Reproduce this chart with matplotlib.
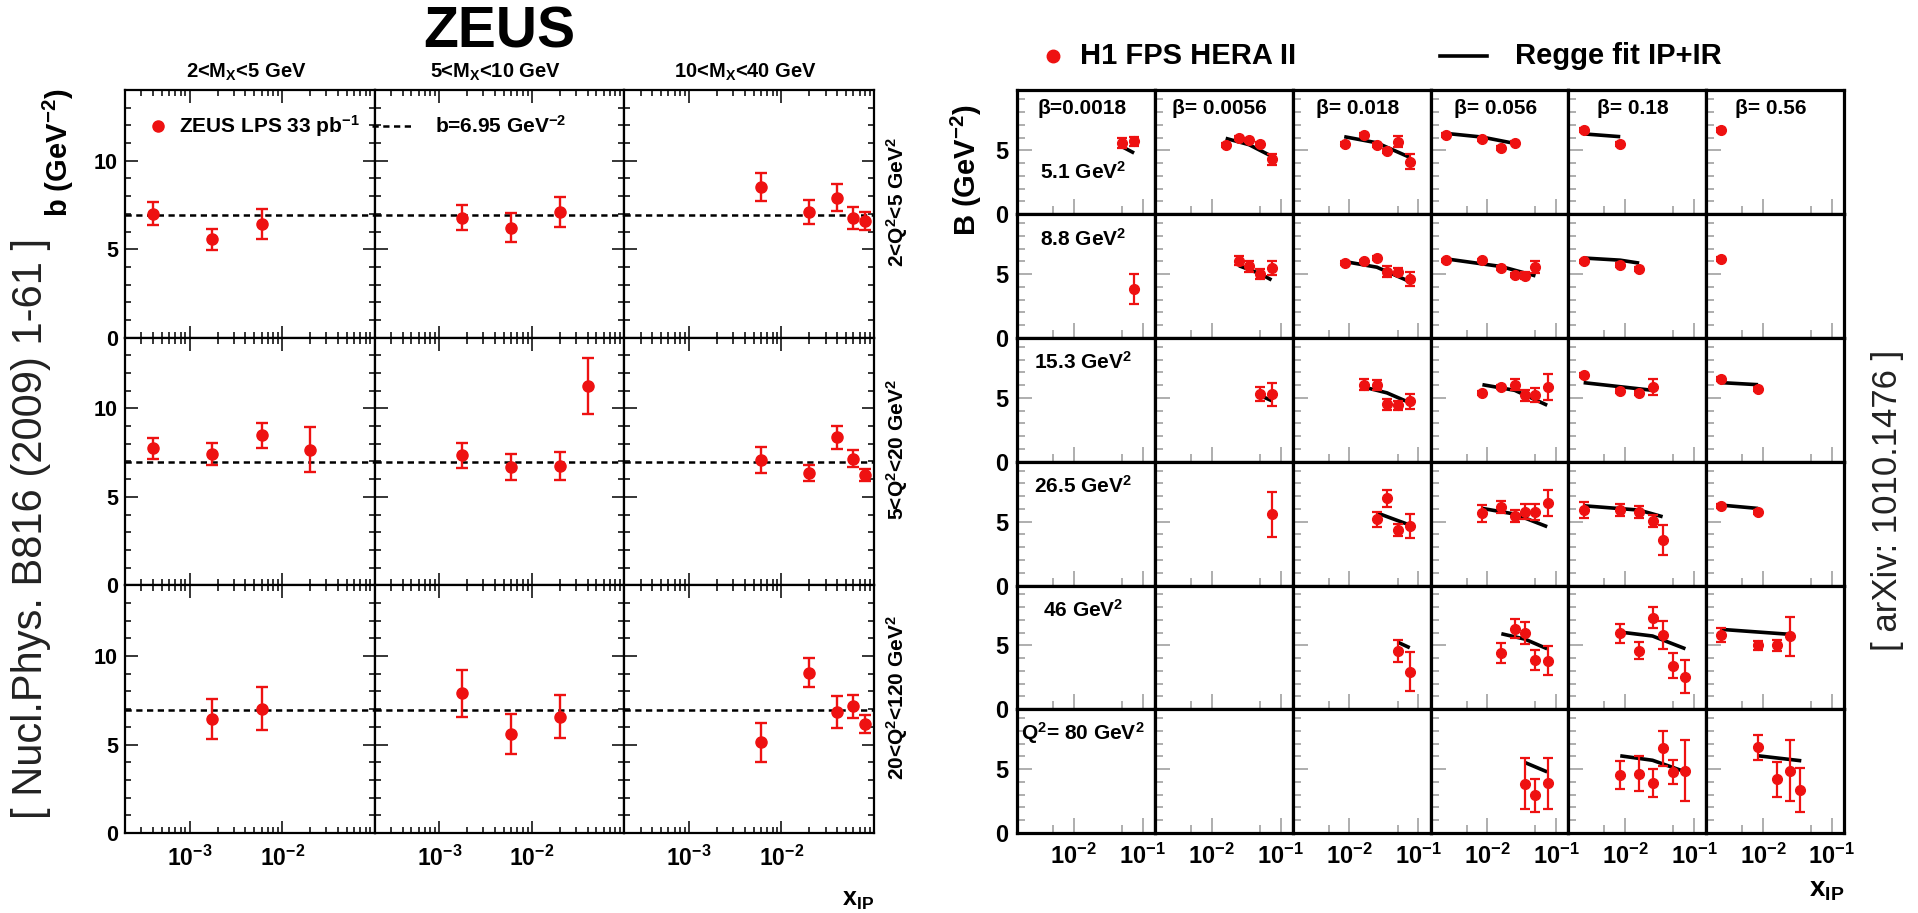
import matplotlib
matplotlib.use('Agg')
import matplotlib.pyplot as plt
from matplotlib.lines import Line2D
from matplotlib.ticker import FixedLocator, MultipleLocator, NullFormatter, LogLocator

plt.rcParams['font.family'] = ['Liberation Sans', 'DejaVu Sans']
plt.rcParams['font.weight'] = 'bold'
plt.rcParams['mathtext.fontset'] = 'custom'
plt.rcParams['mathtext.rm'] = 'Liberation Sans:bold'
plt.rcParams['mathtext.bf'] = 'Liberation Sans:bold'
plt.rcParams['mathtext.it'] = 'Liberation Sans:bold'
plt.rcParams['mathtext.default'] = 'rm'

RED = '#ee1111'

# ---------------- ZEUS LPS (left) ----------------
zeus_x = [0.0004, 0.00175, 0.006, 0.02, 0.04, 0.06, 0.08]
mx_bins = ['2<M$_{X}$<5 GeV', '5<M$_{X}$<10 GeV', '10<M$_{X}$<40 GeV']
zeus_q2_bins = ['2<Q$^{2}$<5 GeV$^{2}$', '5<Q$^{2}$<20 GeV$^{2}$', '20<Q$^{2}$<120 GeV$^{2}$']
zeus_b_avg = 6.95

# one entry per M_X column: (index into zeus_x, b, error)
zeus_q2_low = [
    ([0, 1, 2], [7.0, 5.55, 6.42], [0.65, 0.6, 0.85]),
    ([1, 2, 3], [6.78, 6.21, 7.1], [0.72, 0.82, 0.87]),
    ([2, 3, 4, 5, 6], [8.52, 7.1, 7.92, 6.76, 6.59], [0.78, 0.7, 0.78, 0.62, 0.5]),
]
zeus_q2_mid = [
    ([0, 1, 2, 3], [7.75, 7.42, 8.47, 7.66], [0.6, 0.62, 0.72, 1.28]),
    ([1, 2, 3, 4], [7.36, 6.68, 6.75, 11.28], [0.7, 0.72, 0.77, 1.57]),
    ([2, 3, 4, 5, 6], [7.09, 6.34, 8.36, 7.15, 6.23], [0.72, 0.47, 0.63, 0.48, 0.34]),
]
zeus_q2_high = [
    ([1, 2], [6.43, 7.03], [1.14, 1.23]),
    ([1, 2, 3], [7.9, 5.58, 6.58], [1.33, 1.13, 1.22]),
    ([2, 3, 4, 5, 6], [5.12, 9.07, 6.84, 7.16, 6.14], [1.08, 0.84, 0.92, 0.66, 0.51]),
]

# ---------------- H1 FPS (right) ----------------
h1_x = [0.0025, 0.0085, 0.016, 0.025, 0.035, 0.05, 0.075]
betas = ['β=0.0018', 'β= 0.0056', 'β= 0.018', 'β= 0.056', 'β= 0.18', 'β= 0.56']
h1_q2_labels = ['5.1 GeV$^{2}$', '8.8 GeV$^{2}$', '15.3 GeV$^{2}$', '26.5 GeV$^{2}$',
                '46 GeV$^{2}$', 'Q$^{2}$= 80 GeV$^{2}$']

# per Q2 row: {beta column: (index into h1_x, B, error)}
h1_q2_5p1 = {
    0: ([5, 6], [5.56, 5.72], [0.4, 0.35]),
    1: ([2, 3, 4, 5, 6], [5.4, 6.0, 5.81, 5.51, 4.3], [0.15, 0.15, 0.15, 0.15, 0.45]),
    2: ([1, 2, 3, 4, 5, 6], [5.51, 6.22, 5.46, 4.95, 5.68, 4.11], [0.15, 0.15, 0.15, 0.15, 0.42, 0.6]),
    3: ([0, 1, 2, 3], [6.22, 5.86, 5.22, 5.62], [0.15, 0.15, 0.15, 0.15]),
    4: ([0, 1], [6.62, 5.49], [0.15, 0.15]),
    5: ([0], [6.62], [0.15]),
}
h1_q2_8p8 = {
    0: ([6], [3.84], [1.15]),
    1: ([3, 4, 5, 6], [6.06, 5.61, 5.0, 5.48], [0.37, 0.41, 0.4, 0.58]),
    2: ([1, 2, 3, 4, 5, 6], [5.87, 6.0, 6.27, 5.21, 5.21, 4.63], [0.15, 0.15, 0.15, 0.4, 0.25, 0.55]),
    3: ([0, 1, 2, 3, 4, 5], [6.08, 6.08, 5.48, 4.95, 4.89, 5.56], [0.15, 0.15, 0.15, 0.15, 0.3, 0.5]),
    4: ([0, 1, 2], [6.0, 5.74, 5.42], [0.15, 0.15, 0.15]),
    5: ([0], [6.19], [0.15]),
}
h1_q2_15p3 = {
    1: ([5, 6], [5.34, 5.29], [0.55, 0.9]),
    2: ([2, 3, 4, 5, 6], [6.04, 5.99, 4.5, 4.43, 4.74], [0.42, 0.38, 0.43, 0.37, 0.6]),
    3: ([1, 2, 3, 4, 5, 6], [5.42, 5.86, 6.04, 5.21, 5.26, 5.86], [0.15, 0.15, 0.45, 0.45, 0.55, 1.0]),
    4: ([0, 1, 2, 3], [6.77, 5.55, 5.42, 5.86], [0.15, 0.15, 0.15, 0.6]),
    5: ([0, 1], [6.46, 5.68], [0.15, 0.15]),
}
h1_q2_26p5 = {
    1: ([6], [5.57], [1.75]),
    2: ([3, 4, 5, 6], [5.18, 6.82, 4.35, 4.69], [0.6, 0.68, 0.45, 0.95]),
    3: ([1, 2, 3, 4, 5, 6], [5.65, 6.17, 5.44, 5.78, 5.78, 6.48], [0.65, 0.45, 0.45, 0.6, 0.62, 1.0]),
    4: ([0, 1, 2, 3, 4], [5.91, 5.91, 5.78, 5.05, 3.57], [0.6, 0.45, 0.45, 0.45, 1.2]),
    5: ([0, 1], [6.22, 5.73], [0.15, 0.15]),
}
h1_q2_46 = {
    2: ([5, 6], [4.55, 2.95], [0.85, 1.5]),
    3: ([2, 3, 4, 5, 6], [4.39, 6.32, 6.0, 3.87, 3.82], [0.78, 0.76, 0.87, 0.8, 1.16]),
    4: ([1, 2, 3, 4, 5, 6], [5.97, 4.6, 7.16, 5.79, 3.42, 2.55], [0.75, 0.68, 0.82, 1.1, 1.0, 1.3]),
    5: ([0, 1, 2, 3], [5.79, 5.0, 5.0, 5.71], [0.55, 0.35, 0.4, 1.55]),
}
h1_q2_80 = {
    3: ([4, 5, 6], [3.87, 2.95, 3.89], [1.97, 1.3, 2.0]),
    4: ([1, 2, 3, 4, 5, 6], [4.53, 4.66, 3.95, 6.63, 4.79, 4.87], [1.1, 1.35, 1.1, 1.4, 0.95, 2.4]),
    5: ([1, 2, 3, 4], [6.71, 4.21, 4.87, 3.37], [0.97, 1.35, 2.4, 1.75]),
}

# Regge fit IP+IR: {beta column: (x_IP, B)}
fit_q2_5p1 = {
    0: ([0.05, 0.075], [5.3, 4.8]),
    1: ([0.016, 0.035, 0.074], [5.95, 5.45, 4.55]),
    2: ([0.0084, 0.025, 0.075], [6.08, 5.6, 4.46]),
    3: ([0.0024, 0.0084, 0.025], [6.35, 6.05, 5.55]),
    4: ([0.0025, 0.0085], [6.3, 6.08]),
}
fit_q2_8p8 = {
    1: ([0.025, 0.05, 0.074], [5.66, 5.05, 4.55]),
    2: ([0.0084, 0.025, 0.075], [6.0, 5.55, 4.42]),
    3: ([0.0024, 0.016, 0.05], [6.22, 5.6, 4.87]),
    4: ([0.0025, 0.0085, 0.016], [6.27, 6.1, 5.87]),
}
fit_q2_15p3 = {
    1: ([0.05, 0.074], [5.21, 4.79]),
    2: ([0.016, 0.035, 0.074], [5.86, 5.4, 4.64]),
    3: ([0.0085, 0.025, 0.074], [6.04, 5.6, 4.43]),
    4: ([0.0025, 0.025], [6.2, 5.6]),
    5: ([0.0025, 0.0085], [6.2, 6.04]),
}
fit_q2_26p5 = {
    2: ([0.025, 0.035, 0.075], [5.7, 5.4, 4.74]),
    3: ([0.0085, 0.025, 0.074], [6.04, 5.6, 4.61]),
    4: ([0.0025, 0.016, 0.035], [6.25, 5.91, 5.39]),
    5: ([0.0025, 0.0085], [6.3, 6.04]),
}
fit_q2_46 = {
    2: ([0.05, 0.075], [5.26, 4.82]),
    3: ([0.016, 0.035, 0.074], [5.92, 5.5, 4.74]),
    4: ([0.0085, 0.025, 0.075], [6.05, 5.74, 4.74]),
    5: ([0.0025, 0.025], [6.26, 5.87]),
}
fit_q2_80 = {
    3: ([0.035, 0.074], [5.53, 4.79]),
    4: ([0.0085, 0.025, 0.075], [6.05, 5.7, 4.79]),
    5: ([0.0086, 0.036], [6.05, 5.66]),
}

# ------------------------------------------------
W, H = 1918.0, 913.0
fig = plt.figure(figsize=(W / 100, H / 100), dpi=100)


def box(x0, y0, x1, y1):
    # pixel box (top-left origin) -> figure fraction rect
    return [x0 / W, 1 - y1 / H, (x1 - x0) / W, (y1 - y0) / H]


def ftext(x, y, s, **kw):
    fig.text(x / W, 1 - y / H, s, **kw)


# ---- left: ZEUS ----
zl, zr, zt, zb = 125, 874, 90, 833
zcw = (zr - zl) / 3
zrh = (zb - zt) / 3
zeus_rows = [zeus_q2_low, zeus_q2_mid, zeus_q2_high]
for r, row in enumerate(zeus_rows):
    for c, (idx, b, e) in enumerate(row):
        ax = fig.add_axes(box(zl + c * zcw, zt + r * zrh, zl + (c + 1) * zcw, zt + (r + 1) * zrh))
        ax.set_xscale('log')
        ax.set_xlim(2e-4, 0.1)
        ax.set_ylim(0, 14)
        ax.axhline(zeus_b_avg, color='black', ls=(0, (2.5, 1.8)), lw=1.8, zorder=2)
        ax.errorbar([zeus_x[i] for i in idx], b, yerr=e, fmt='o', color=RED, ms=8,
                    elinewidth=1.7, capsize=4.5, capthick=1.7, zorder=3)
        ax.xaxis.set_major_locator(FixedLocator([1e-3, 1e-2]))
        ax.xaxis.set_minor_locator(LogLocator(base=10, subs=range(2, 10)))
        ax.xaxis.set_minor_formatter(NullFormatter())
        ax.set_xticklabels([r'10$^{-3}$', r'10$^{-2}$'])
        ax.set_yticks([0, 5, 10])
        ax.yaxis.set_minor_locator(MultipleLocator(1))
        ax.tick_params(which='both', direction='in', top=True, right=True,
                       labelsize=15.5, width=1.1)
        ax.tick_params(axis='x', labelsize=16.5)
        ax.tick_params(which='major', length=9)
        ax.tick_params(which='minor', length=4.5)
        ax.tick_params(axis='x', pad=9)
        ax.tick_params(axis='y', pad=5)
        ax.tick_params(labelbottom=(r == 2), labelleft=(c == 0))
        for sp in ax.spines.values():
            sp.set_linewidth(1.6)
    ftext(897, zt + (r + 0.5) * zrh - 12, zeus_q2_bins[r], rotation=90, fontsize=15,
          ha='center', va='center')

for c in range(3):
    ftext(zl + (c + 0.5) * zcw - 4, 72, mx_bins[c], fontsize=14.5, ha='center', va='center')

ftext(499, 33, 'ZEUS', fontsize=41, ha='center', va='center')
ftext(58, 153, r'b (GeV$^{-2}$)', rotation=90, fontsize=21, ha='center', va='center')
ftext(874, 900, r'x$_{IP}$', fontsize=18, ha='right', va='center')

# left legend
fig.add_artist(Line2D([158 / W], [1 - 126 / H], marker='o', color=RED, ms=8, ls='none'))
ftext(179, 126, r'ZEUS LPS 33 pb$^{-1}$', fontsize=15, ha='left', va='center')
fig.add_artist(Line2D([372 / W, 413 / W], [1 - 126 / H, 1 - 126 / H], color='black',
                      ls=(0, (2.5, 1.8)), lw=1.8))
ftext(435, 126, r'b=6.95 GeV$^{-2}$', fontsize=15, ha='left', va='center')

# ---- right: H1 FPS ----
hl, hr, ht, hb = 1017, 1844, 90.5, 833
hcw = (hr - hl) / 6
hrh = (hb - ht) / 6
h1_rows = [h1_q2_5p1, h1_q2_8p8, h1_q2_15p3, h1_q2_26p5, h1_q2_46, h1_q2_80]
fit_rows = [fit_q2_5p1, fit_q2_8p8, fit_q2_15p3, fit_q2_26p5, fit_q2_46, fit_q2_80]
for r in range(6):
    for c in range(6):
        ax = fig.add_axes(box(hl + c * hcw, ht + r * hrh, hl + (c + 1) * hcw, ht + (r + 1) * hrh))
        ax.set_xscale('log')
        ax.set_xlim(1.5e-3, 0.15)
        ax.set_ylim(0, 9.7)
        if c in fit_rows[r]:
            fx, fy = fit_rows[r][c]
            ax.plot(fx, fy, color='black', lw=2.6, solid_capstyle='butt', zorder=2)
        if c in h1_rows[r]:
            idx, bv, ev = h1_rows[r][c]
            ax.errorbar([h1_x[i] for i in idx], bv, yerr=ev, fmt='o', color=RED, ms=7,
                        elinewidth=1.6, capsize=3.5, capthick=1.6, zorder=3)
        ax.xaxis.set_major_locator(FixedLocator([1e-2, 1e-1]))
        ax.xaxis.set_minor_locator(FixedLocator([5e-3, 5e-2]))
        ax.xaxis.set_minor_formatter(NullFormatter())
        ax.set_xticklabels([r'10$^{-2}$', r'10$^{-1}$'])
        ax.set_yticks([0, 5])
        ax.yaxis.set_minor_locator(MultipleLocator(1))
        ax.tick_params(which='both', direction='in', top=False, right=False,
                       labelsize=17, width=1.1, color='#999999')
        ax.tick_params(which='major', length=11)
        ax.tick_params(which='minor', length=6)
        ax.tick_params(axis='x', pad=8)
        ax.tick_params(axis='y', pad=6)
        ax.tick_params(labelbottom=(r == 5), labelleft=(c == 0))
        for sp in ax.spines.values():
            sp.set_linewidth(2.3)
        if r == 0:
            ax.text(0.47, 0.855, betas[c], transform=ax.transAxes, fontsize=15,
                    ha='center', va='center')
        if c == 0:
            ly = 0.34 if r == 0 else 0.805
            ax.text(0.48, ly, h1_q2_labels[r], transform=ax.transAxes, fontsize=15,
                    ha='center', va='center')

ftext(966, 170, r'B (GeV$^{-2}$)', rotation=90, fontsize=21, ha='center', va='center')
ftext(1844, 890, r'x$_{IP}$', fontsize=20, ha='right', va='center')

# right legend
fig.add_artist(Line2D([1053 / W], [1 - 56 / H], marker='o', color=RED, ms=9, ls='none'))
ftext(1080, 56, 'H1 FPS HERA II', fontsize=21, ha='left', va='center')
fig.add_artist(Line2D([1440 / W, 1487 / W], [1 - 56 / H, 1 - 56 / H], color='black', lw=2.6))
ftext(1515, 56, 'Regge fit IP+IR', fontsize=21, ha='left', va='center')

# references
ftext(31, 528, '[ Nucl.Phys. B816 (2009) 1-61 ]', rotation=90, fontsize=30,
      fontweight='normal', color='#222222', ha='center', va='center')
ftext(1887, 500, '[ arXiv: 1010.1476 ]', rotation=90, fontsize=25,
      fontweight='normal', color='#222222', ha='center', va='center')

fig.savefig('out.png', dpi=100)
